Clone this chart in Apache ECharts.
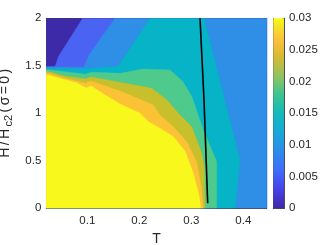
<!DOCTYPE html>
<html><head><meta charset="utf-8">
<script src="https://cdn.jsdelivr.net/npm/echarts@6/dist/echarts.min.js"></script>
<style>html,body{margin:0;padding:0;background:#fff}#c{width:327px;height:245px}</style>
</head><body><div id="c"></div>
<script>
// Axis ranges and ticks
const tRange = [0.021, 0.445];
const hRange = [0, 2];
const xTicks = [0.1, 0.2, 0.3, 0.4];
const cbRange = [0, 0.03];
const cbTicks = [0, 0.005, 0.01, 0.015, 0.02, 0.025, 0.03];

// Filled contour regions (superlevel sets), vertices as [T, H]
const regionNavy = [[0.021,0],[0.021,2],[0.445,2],[0.445,0]];
const regionBlue = [[0.021,1.492],[0.0378,1.492],[0.0423,1.561],[0.0442,1.596],[0.0911,2.0],[0.445,2],[0.445,0],[0.021,0]];
const regionLightBlue = [[0.021,1.488],[0.0936,1.486],[0.1032,1.614],[0.1532,2.0],[0.445,2],[0.445,0],[0.021,0]];
const regionCyan = [[0.021,1.472],[0.0936,1.467],[0.1244,1.482],[0.159,1.493],[0.2205,2.0],[0.3244,2.0],[0.3936,0.509],[0.384,0],[0.021,0]];
const regionGreen = [[0.021,1.461],[0.0969,1.411],[0.1065,1.432],[0.1642,1.421],[0.2071,1.467],[0.259,1.456],[0.284,1.333],[0.3013,1.172],[0.323,0.825],[0.3488,0.491],[0.3488,0],[0.021,0]];
const regionOlive = [[0.021,1.444],[0.0551,1.393],[0.0969,1.361],[0.1065,1.382],[0.1642,1.325],[0.2238,1.263],[0.2532,1.14],[0.2744,1.003],[0.3007,0.859],[0.32,0.579],[0.325,0.438],[0.3263,0],[0.021,0]];
const regionOrange = [[0.021,1.428],[0.0551,1.372],[0.0969,1.316],[0.1065,1.34],[0.1628,1.235],[0.2269,1.088],[0.2397,0.982],[0.2653,0.859],[0.2917,0.698],[0.3103,0.488],[0.3186,0.246],[0.323,0],[0.021,0]];
const regionYellow = [[0.021,1.407],[0.0551,1.356],[0.0801,1.319],[0.0974,1.267],[0.1071,1.288],[0.134,1.193],[0.1628,1.098],[0.2013,1.0],[0.2172,0.912],[0.2397,0.842],[0.2653,0.754],[0.2878,0.603],[0.3038,0.369],[0.3153,0.122],[0.318,0],[0.021,0]];

// Black boundary line
const tcLine = [[0.3167,2.0],[0.3244,1.14],[0.3315,0.053]];

const regions = [regionNavy, regionBlue, regionLightBlue, regionCyan, regionGreen, regionOlive, regionOrange, regionYellow];
const regionColors = ['#3d2aa8','#4a63f2','#2f8ee6','#06b3c7','#4dca8c','#c7bf2b','#fbc236','#f8f81c'];

const parulaStops = [
  [0,'#3e26a8'],[0.1,'#4641e8'],[0.2,'#3f6cfb'],[0.3,'#2c8ceb'],[0.4,'#17a9d8'],
  [0.5,'#12bbbb'],[0.6,'#3dc58f'],[0.7,'#95c35c'],[0.8,'#d8ba33'],[0.88,'#fbbe3c'],
  [0.95,'#f5df2a'],[1,'#f9fb15']
];

const txt = '#262626';
const fontFam = 'Liberation Sans, Arial, sans-serif';
const tickFont = 11.5;
const chart = echarts.init(document.getElementById('c'), null, {renderer:'canvas'});

const mainAxisCommon = {
  type:'value', axisLine:{show:true, onZero:false, lineStyle:{color:'#4d4d4d', width:1}},
  splitLine:{show:false}
};
const nameTok = {fontSize:14, color:txt, fontFamily:fontFam, verticalAlign:'top', lineHeight:16, padding:[0,1.2,0,1.2]};

chart.setOption({
  animation:false,
  backgroundColor:'#fff',
  grid:[
    {left:46.3, top:18.3, width:220.4, height:190, containLabel:false, outerBoundsMode:'none'},
    {left:273.3, top:18.3, width:10.7, height:190, containLabel:false, outerBoundsMode:'none'}
  ],
  xAxis:[
    Object.assign({}, mainAxisCommon, {gridIndex:0, position:'bottom', min:tRange[0], max:tRange[1],
      name:'T', nameLocation:'middle', nameGap:22,
      nameTextStyle:{color:txt, fontSize:14, fontFamily:fontFam},
      axisTick:{show:true, inside:true, length:3, customValues:xTicks, lineStyle:{color:'#4d4d4d'}},
      axisLabel:{show:true, customValues:xTicks, color:txt, fontSize:tickFont, fontFamily:fontFam, margin:7,
        formatter:v=>String(+v.toFixed(2))}}),
    Object.assign({}, mainAxisCommon, {gridIndex:0, position:'top', min:tRange[0], max:tRange[1],
      axisTick:{show:true, inside:true, length:3, customValues:xTicks, lineStyle:{color:'#4d4d4d'}},
      axisLabel:{show:false}}),
    {type:'category', gridIndex:1, data:['c'], position:'bottom', axisLine:{show:true, lineStyle:{color:'#4d4d4d'}}, axisTick:{show:false}, axisLabel:{show:false}},
    {type:'category', gridIndex:1, data:['c'], position:'top', axisLine:{show:true, lineStyle:{color:'#4d4d4d'}}, axisTick:{show:false}, axisLabel:{show:false}}
  ],
  yAxis:[
    Object.assign({}, mainAxisCommon, {gridIndex:0, position:'left', min:hRange[0], max:hRange[1], interval:0.5,
      name:'{a|H}{a|/}{a|H}{s|c2}{a|(}{a|σ}{a|=}{a|0}{a|)}', nameLocation:'middle', nameGap:25, nameRotate:90,
      nameTextStyle:{color:txt, fontFamily:fontFam, rich:{
        a:nameTok,
        s:{fontSize:11, color:txt, fontFamily:fontFam, verticalAlign:'bottom', lineHeight:16, padding:[7,1.2,0,1.2]}}},
      axisTick:{show:true, inside:true, length:3, lineStyle:{color:'#4d4d4d'}},
      axisLabel:{color:txt, fontSize:tickFont, fontFamily:fontFam, margin:5, formatter:v=>String(+v.toFixed(2))}}),
    Object.assign({}, mainAxisCommon, {gridIndex:0, position:'right', min:hRange[0], max:hRange[1], interval:0.5,
      axisTick:{show:true, inside:true, length:3, lineStyle:{color:'#4d4d4d'}},
      axisLabel:{show:false}}),
    {type:'value', gridIndex:1, position:'right', min:cbRange[0], max:cbRange[1], interval:0.005,
      axisLine:{show:true, lineStyle:{color:'#4d4d4d'}}, splitLine:{show:false},
      axisTick:{show:true, inside:true, length:2, lineStyle:{color:'#4d4d4d'}},
      axisLabel:{color:txt, fontSize:tickFont, fontFamily:fontFam, margin:5, formatter:v=>String(+v.toFixed(3))}},
    {type:'value', gridIndex:1, position:'left', min:cbRange[0], max:cbRange[1], interval:0.005,
      axisLine:{show:true, lineStyle:{color:'#4d4d4d'}}, splitLine:{show:false},
      axisTick:{show:false}, axisLabel:{show:false}}
  ],
  series:[
    {
      type:'custom', xAxisIndex:0, yAxisIndex:0, clip:true,
      data: regions.map((r,i)=>i),
      renderItem:(params, api)=>{
        const idx = params.dataIndex;
        const pts = regions[idx].map(p=>api.coord(p));
        return {type:'polygon', shape:{points:pts}, style:{fill:regionColors[idx], stroke:regionColors[idx], lineWidth:0.5}};
      },
      z:1, silent:true
    },
    {
      type:'line', xAxisIndex:0, yAxisIndex:0, data:tcLine, showSymbol:false, symbol:'none',
      lineStyle:{color:'#000', width:1.6}, z:3, silent:true
    },
    {
      type:'bar', xAxisIndex:2, yAxisIndex:2, data:[cbRange[1]], barWidth:'100%', silent:true,
      itemStyle:{color:{type:'linear', x:0, y:1, x2:0, y2:0,
        colorStops: parulaStops.map(s=>({offset:s[0], color:s[1]}))}}
    }
  ]
});
</script>
</body></html>
